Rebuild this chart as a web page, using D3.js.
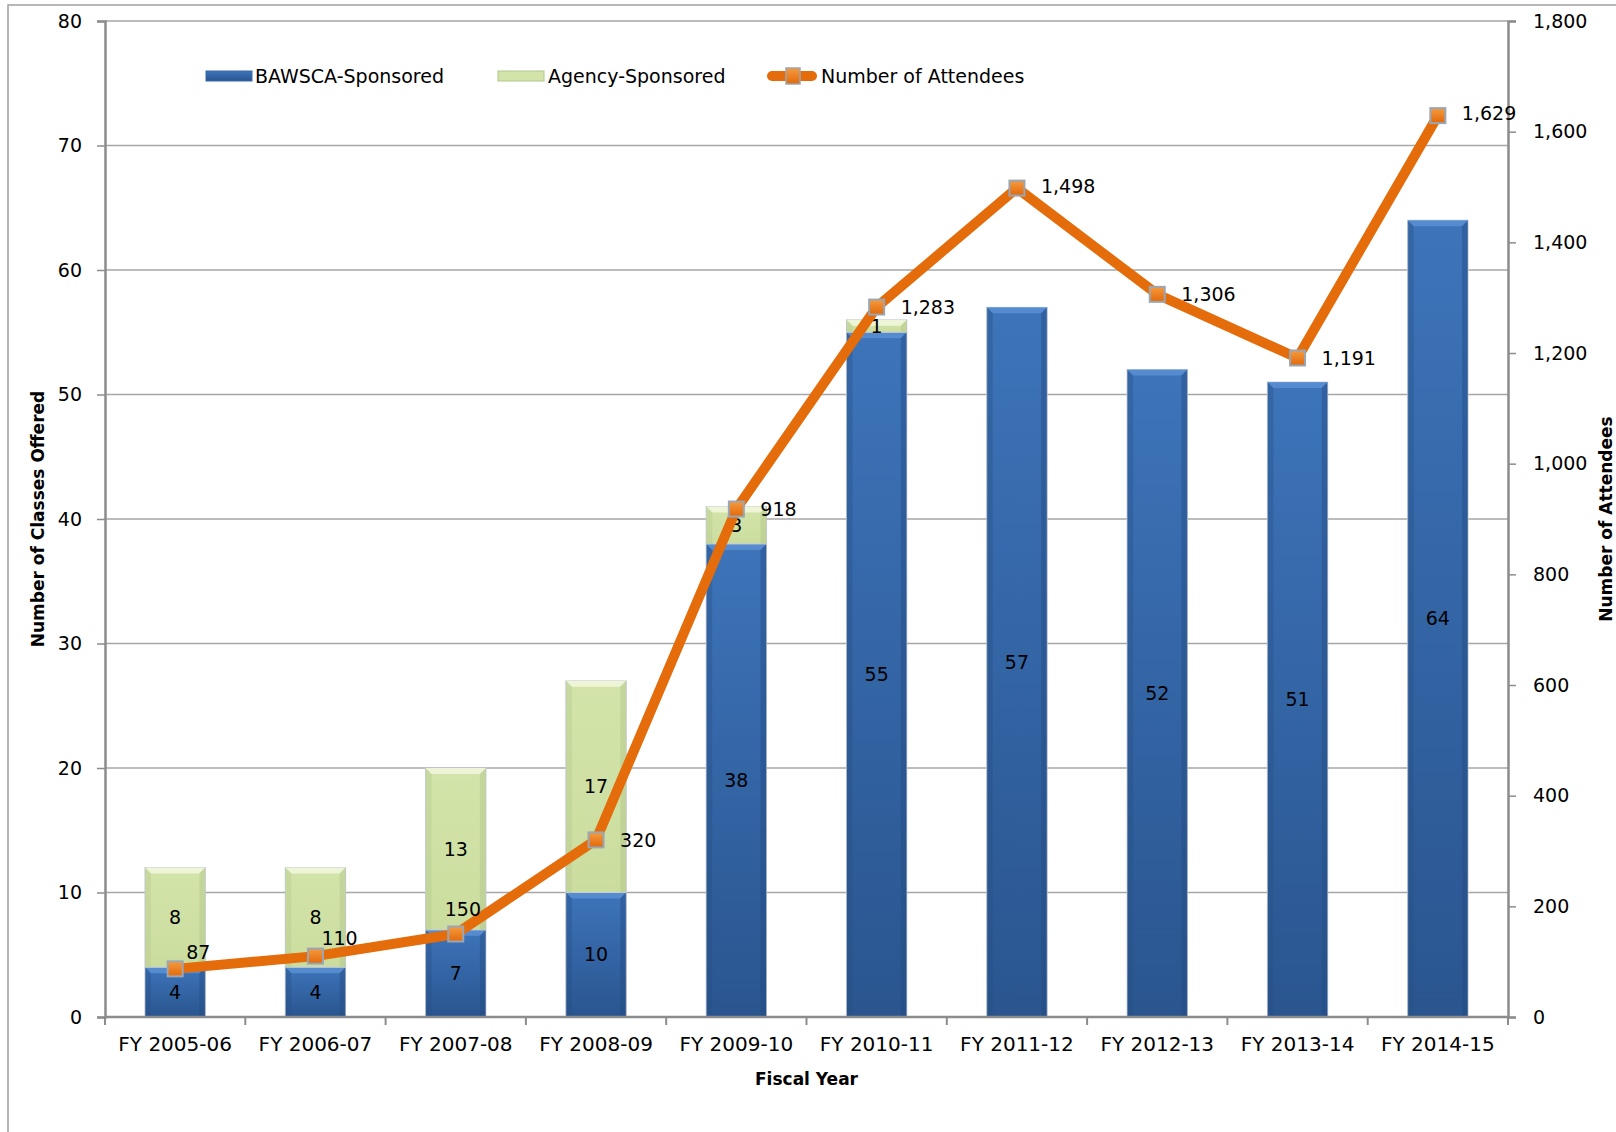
<!DOCTYPE html>
<html>
<head>
<meta charset="utf-8">
<script src="https://cdn.jsdelivr.net/npm/d3@7"></script>
<style>
  body { margin: 0; background: #fff; }
  text { font-family: "DejaVu Sans", sans-serif; fill: #000; }
  .tick text { font-size: 19px; }
  .title { font-weight: bold; font-size: 17px; }
</style>
</head>
<body>
<div id="chart"></div>
<script>
// data
var years = ["FY 2005-06", "FY 2006-07", "FY 2007-08", "FY 2008-09", "FY 2009-10",
             "FY 2010-11", "FY 2011-12", "FY 2012-13", "FY 2013-14", "FY 2014-15"];
var bawsca = [4, 4, 7, 10, 38, 55, 57, 52, 51, 64];
var agency = [8, 8, 13, 17, 3, 1, 0, 0, 0, 0];
var attendees = [87, 110, 150, 320, 918, 1283, 1498, 1306, 1191, 1629];
var leftTicks = [0, 10, 20, 30, 40, 50, 60, 70, 80];
var rightTicks = [0, 200, 400, 600, 800, 1000, 1200, 1400, 1600, 1800];
// the first few attendee labels were dragged by hand in the original
var labelLift = [17, 18, 25, 0, 0, 0, 2, 0, 0, 2];
var labelShift = [11, 6, -11, 24, 24, 24, 24, 24, 24, 24];

var W = 1616, H = 1132;
var margin = { top: 21, right: 108, bottom: 115, left: 105 },
    width = W - margin.left - margin.right,
    height = H - margin.top - margin.bottom;

var svg = d3.select("#chart").append("svg")
    .attr("width", W)
    .attr("height", H);

// outer frame
svg.append("rect")
    .attr("x", 8).attr("y", 5)
    .attr("width", W + 20).attr("height", H + 20)
    .attr("fill", "none").attr("stroke", "#a0a0a0").attr("stroke-width", 1.5);

var defs = svg.append("defs");
function vgrad(id, stops) {
  var g = defs.append("linearGradient").attr("id", id)
      .attr("x1", 0).attr("y1", 0).attr("x2", 0).attr("y2", 1);
  stops.forEach(function(s) {
    g.append("stop").attr("offset", s[0]).attr("stop-color", s[1]);
  });
}
vgrad("gBlue", [[0, "#3d74ba"], [1, "#2a558f"]]);
vgrad("gGreen", [[0, "#d3e4aa"], [1, "#cbdd9e"]]);
vgrad("gMark", [[0, "#f59b3f"], [1, "#e2690a"]]);

var g = svg.append("g")
    .attr("transform", "translate(" + margin.left + "," + margin.top + ")");

var x = d3.scaleBand().domain(years).range([0, width]).paddingInner(0.57).paddingOuter(0.285);
var xc = d3.scaleBand().domain(years).range([0, width]);
var y = d3.scaleLinear().domain([0, 80]).range([height, 0]);
var y2 = d3.scaleLinear().domain([0, 1800]).range([height, 0]);

// gridlines
g.selectAll(".grid").data(leftTicks.slice(1)).enter().append("line")
    .attr("x1", 0).attr("x2", width)
    .attr("y1", function(d) { return y(d); }).attr("y2", function(d) { return y(d); })
    .attr("stroke", "#a6a6a6").attr("stroke-width", 1.5);

// stacked bars
var stackData = years.map(function(yr, i) { return { year: yr, b: bawsca[i], a: agency[i] }; });
var series = d3.stack().keys(["b", "a"])(stackData);
var fills = { b: ["url(#gBlue)", "#5b90d2", "#244c82"], a: ["url(#gGreen)", "#f2f8de", "#b2c68a"] };
var bev = 6;

series.forEach(function(s) {
  var f = fills[s.key];
  s.forEach(function(d) {
    if (d[1] - d[0] <= 0) return;
    var x0 = x(d.data.year), w = x.bandwidth(),
        y0 = y(d[1]), h = y(d[0]) - y(d[1]);
    var bar = g.append("g");
    bar.append("rect")
        .attr("x", x0).attr("y", y0).attr("width", w).attr("height", h)
        .attr("fill", f[0]).attr("stroke", "#c4ccd6").attr("stroke-width", 1);
    var b = Math.min(bev, h / 2);
    bar.append("polygon")
        .attr("points", [[x0, y0], [x0 + w, y0], [x0 + w - b, y0 + b], [x0 + b, y0 + b]].join(" "))
        .attr("fill", f[1]).attr("opacity", 0.85);
    bar.append("polygon")
        .attr("points", [[x0, y0], [x0 + b, y0 + b], [x0 + b, y0 + h], [x0, y0 + h]].join(" "))
        .attr("fill", f[2]).attr("opacity", 0.35);
    bar.append("polygon")
        .attr("points", [[x0 + w, y0], [x0 + w - b, y0 + b], [x0 + w - b, y0 + h], [x0 + w, y0 + h]].join(" "))
        .attr("fill", f[2]).attr("opacity", 0.45);
  });
});

// axes
var xAxis = g.append("g").attr("transform", "translate(0," + height + ")")
    .call(d3.axisBottom(xc).tickSize(0).tickPadding(20));
xAxis.select(".domain").remove();
xAxis.append("line").attr("x1", 0).attr("x2", width).attr("stroke", "#8c8c8c").attr("stroke-width", 2.5);
xAxis.selectAll(".sep").data(d3.range(years.length + 1)).enter().append("line")
    .attr("x1", function(i) { return i * xc.step(); }).attr("x2", function(i) { return i * xc.step(); })
    .attr("y1", 0).attr("y2", 8).attr("stroke", "#8c8c8c").attr("stroke-width", 2);
xAxis.selectAll(".tick text").attr("dy", "0.71em").style("font-size", "20px");

var yAxis = g.append("g")
    .call(d3.axisLeft(y).tickValues(leftTicks).tickSize(8).tickPadding(15));
yAxis.select(".domain").attr("stroke", "#8c8c8c").attr("stroke-width", 2.5);
yAxis.selectAll(".tick line").attr("stroke", "#8c8c8c").attr("stroke-width", 1.5);

var y2Axis = g.append("g").attr("transform", "translate(" + width + ",0)")
    .call(d3.axisRight(y2).tickValues(rightTicks).tickSize(8).tickPadding(17).tickFormat(d3.format(",")));
y2Axis.select(".domain").attr("stroke", "#8c8c8c").attr("stroke-width", 2.5);
y2Axis.selectAll(".tick line").attr("stroke", "#8c8c8c").attr("stroke-width", 1.5);

// bar segment labels
series.forEach(function(s) {
  g.selectAll(".lbl-" + s.key).data(s.filter(function(d) { return d[1] - d[0] > 0; }))
    .enter().append("text")
    .attr("x", function(d) { return x(d.data.year) + x.bandwidth() / 2; })
    .attr("y", function(d) { return y((d[0] + d[1]) / 2); })
    .attr("dy", "0.35em")
    .attr("text-anchor", "middle")
    .style("font-size", "19px")
    .text(function(d) { return d[1] - d[0]; });
});

// attendees line
var line = d3.line()
    .x(function(d, i) { return xc(years[i]) + xc.bandwidth() / 2; })
    .y(function(d) { return y2(d); });
g.append("path").datum(attendees)
    .attr("d", line)
    .attr("fill", "none").attr("stroke", "#e46c0a")
    .attr("stroke-width", 10).attr("stroke-linejoin", "round");

var ms = 15;
g.selectAll(".mark").data(attendees).enter().append("rect")
    .attr("x", function(d, i) { return xc(years[i]) + xc.bandwidth() / 2 - ms / 2; })
    .attr("y", function(d) { return y2(d) - ms / 2; })
    .attr("width", ms).attr("height", ms)
    .attr("fill", "url(#gMark)").attr("stroke", "#9aa6b4").attr("stroke-width", 2);

g.selectAll(".alab").data(attendees).enter().append("text")
    .attr("x", function(d, i) { return xc(years[i]) + xc.bandwidth() / 2 + labelShift[i]; })
    .attr("y", function(d, i) { return y2(d) - labelLift[i]; })
    .attr("dy", "0.35em")
    .style("font-size", "19px")
    .text(function(d) { return d3.format(",")(d); });

// axis titles
svg.append("text").attr("class", "title")
    .attr("x", margin.left + width / 2).attr("y", 1085)
    .attr("text-anchor", "middle").text("Fiscal Year");
svg.append("text").attr("class", "title")
    .attr("transform", "translate(44," + (margin.top + height / 2) + ") rotate(-90)")
    .attr("text-anchor", "middle").text("Number of Classes Offered");
svg.append("text").attr("class", "title")
    .attr("transform", "translate(1612," + (margin.top + height / 2) + ") rotate(-90)")
    .attr("text-anchor", "middle").text("Number of Attendees");

// legend
var leg = svg.append("g").attr("transform", "translate(0,76)");
function legText(x0, t) {
  leg.append("text").attr("x", x0).attr("y", 0).attr("dy", "0.35em")
     .style("font-size", "19px").text(t);
}
leg.append("rect").attr("x", 206).attr("y", -5).attr("width", 46).attr("height", 10)
   .attr("fill", "url(#gBlue)").attr("stroke", "#3a6aa8");
legText(255, "BAWSCA-Sponsored");
leg.append("rect").attr("x", 498).attr("y", -5).attr("width", 46).attr("height", 10)
   .attr("fill", "#d3e4aa").attr("stroke", "#b2c68a");
legText(548, "Agency-Sponsored");
leg.append("line").attr("x1", 772).attr("x2", 812).attr("y1", 0).attr("y2", 0)
   .attr("stroke", "#e46c0a").attr("stroke-width", 10).attr("stroke-linecap", "round");
leg.append("rect").attr("x", 786).attr("y", -8).attr("width", 14).attr("height", 16)
   .attr("fill", "url(#gMark)").attr("stroke", "#9aa6b4").attr("stroke-width", 1.5);
legText(821, "Number of Attendees");
</script>
</body>
</html>
